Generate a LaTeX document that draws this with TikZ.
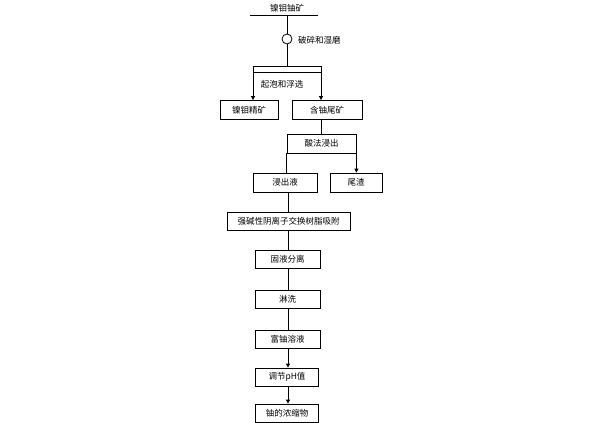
\documentclass[tikz,border=0pt]{standalone}
\usepackage{fontspec}
\setmainfont{Noto Sans CJK SC}
\usetikzlibrary{arrows.meta}
\begin{document}
\begin{tikzpicture}[x=1pt,y=-1pt,
  box/.style={draw,line width=0.8pt,minimum height=19pt,inner sep=0pt,font=\fontsize{8.5}{10}\selectfont},
  lbl/.style={font=\fontsize{8.5}{10}\selectfont,inner sep=0pt},
  ln/.style={line width=0.8pt},
  arr/.style={ln,-{Triangle[length=4pt,width=4pt]}}]
\useasboundingbox (0,0) rectangle (600,423);
\node[lbl] (ore) at (287,8) {镍钼铀矿};
\coordinate (oreL) at (250,15); \coordinate (oreR) at (318,15);
\draw[ln] (oreL) -- (oreR);
\coordinate (top) at (287,15);
\node[draw,circle,line width=0.8pt,minimum size=10pt,inner sep=0pt] (c) at (287,39) {};
\node[lbl,anchor=west] (crush) at (298,40) {破碎和湿磨};
\draw[ln] (top) -- (c.north);
\coordinate (d1) at (287,66);
\draw[ln] (c.south) -- (d1);
\coordinate (h1L) at (253,66); \coordinate (h1R) at (321,66);
\coordinate (h2L) at (253,72); \coordinate (h2R) at (321,72);
\draw[ln] (h1L) -- (h1R) (h2L) -- (h2R);
\node[lbl] (flot) at (282,84) {起泡和浮选};
\node[box,minimum width=58pt] (conc) at (249,110) {镍钼精矿};
\node[box,minimum width=70pt] (tail) at (327,110) {含铀尾矿};
\draw[arr] (h1L) -- (h1L |- conc.north);
\draw[arr] (h1R) -- (h1R |- tail.north);
\node[box,minimum width=69pt] (acid) at (321.5,143.5) {酸法浸出};
\draw[ln] (h1R |- tail.south) -- (h1R |- acid.north);
\node[box,minimum width=64pt] (leach) at (285,182.5) {浸出液};
\node[box,minimum width=52pt] (res) at (356,182.5) {尾渣};
\draw[ln] (acid.south west) -- (acid.south west |- leach.north);
\draw[arr] (acid.south east) -- (acid.south east |- res.north);
\node[box,minimum width=123pt,minimum height=18pt] (resin) at (288.5,221) {强碱性阴离子交换树脂吸附};
\node[box,minimum width=65pt,minimum height=18pt] (sep) at (287.5,259) {固液分离};
\node[box,minimum width=65pt,minimum height=18pt] (wash) at (287.5,299) {淋洗};
\node[box,minimum width=65pt,minimum height=18pt] (rich) at (287.5,339) {富铀溶液};
\node[box,minimum width=63pt,minimum height=18pt] (ph) at (287,377) {调节pH值};
\node[box,minimum width=63pt,minimum height=18pt] (prod) at (287,413) {铀的浓缩物};
\draw[ln] (leach.south -| 288,0) -- (resin.north -| 288,0);
\draw[ln] (resin.south -| 288,0) -- (sep.north -| 288,0);
\draw[ln] (sep.south -| 288,0) -- (wash.north -| 288,0);
\draw[ln] (wash.south -| 288,0) -- (rich.north -| 288,0);
\draw[arr] (rich.south -| 288,0) -- (ph.north -| 288,0);
\draw[arr] (ph.south -| 288,0) -- (prod.north -| 288,0);
\end{tikzpicture}
\end{document}
